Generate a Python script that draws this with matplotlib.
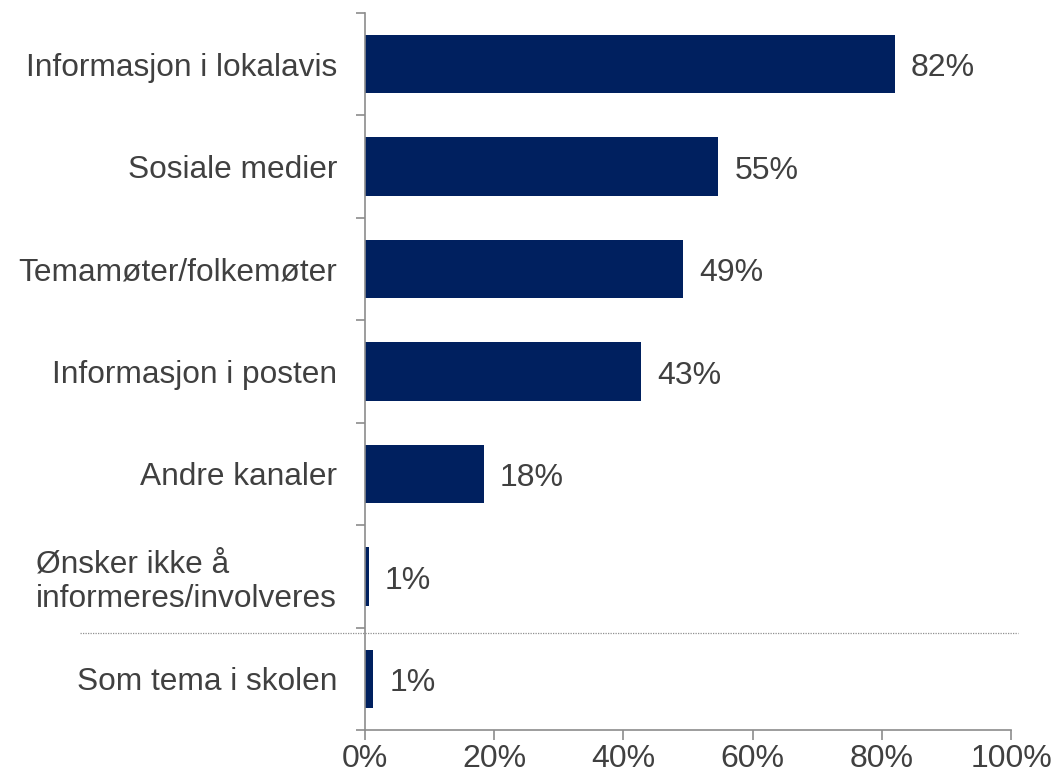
import matplotlib
matplotlib.use("Agg")
import matplotlib.pyplot as plt
import matplotlib.transforms as mtransforms
import numpy as np

plt.rcParams['font.family'] = ['Liberation Sans', 'DejaVu Sans']

categories = [
    "Informasjon i lokalavis",
    "Sosiale medier",
    "Temamøter/folkemøter",
    "Informasjon i posten",
    "Andre kanaler",
    "Ønsker ikke å\ninformeres/involveres",
    "Som tema i skolen",
]
values = [82.0, 54.7, 49.2, 42.7, 18.4, 0.6, 1.3]
xticks = [0, 20, 40, 60, 80, 100]
xtick_labels = ["0%", "20%", "40%", "60%", "80%", "100%"]

bar_color = "#00205f"
axis_color = "#8c8c8c"
text_color = "#404040"

fig = plt.figure(figsize=(10.54, 7.82), dpi=100)
ax = fig.add_axes([0.3463, 0.0665, 0.6130, 0.9169])

y = np.arange(len(categories))
ax.barh(y, values, height=0.57, color=bar_color)

ax.set_xlim(0, 100)
ax.set_ylim(len(categories) - 0.5, -0.5)

for yi, v in zip(y, values):
    ax.annotate(f"{v:.0f}%", xy=(v, yi), xytext=(11.5, -3), textcoords="offset points",
                ha="left", va="center", fontsize=23, color=text_color)

# category labels centred on bars, tick marks at category boundaries
ax.set_yticks(y)
ax.set_yticklabels(categories, fontsize=22.8, color=text_color, ha="right", linespacing=1.2)
for lbl in ax.get_yticklabels():
    lbl.set_multialignment("left")
ax.tick_params(axis="y", which="major", length=0, pad=20)
ax.set_yticks(np.arange(-0.5, len(categories)), minor=True)
ax.tick_params(axis="y", which="minor", length=6.5, width=1.2, color=axis_color, direction="out")

ax.set_xticks(xticks)
ax.set_xticklabels(xtick_labels, fontsize=23, color=text_color)
ax.tick_params(axis="x", length=7, width=1.2, color=axis_color, pad=3)

for side in ("top", "right"):
    ax.spines[side].set_visible(False)
for side in ("left", "bottom"):
    ax.spines[side].set_color(axis_color)
    ax.spines[side].set_linewidth(1.2)

# dotted separator just above the last category
trans = mtransforms.blended_transform_factory(ax.transAxes, ax.transData)
ax.plot([-0.441, 1.011], [len(categories) - 1.45] * 2, transform=trans,
        color="#909090", linestyle=(0, (1, 1)), linewidth=0.9, clip_on=False)

fig.savefig("out.png", dpi=100)
